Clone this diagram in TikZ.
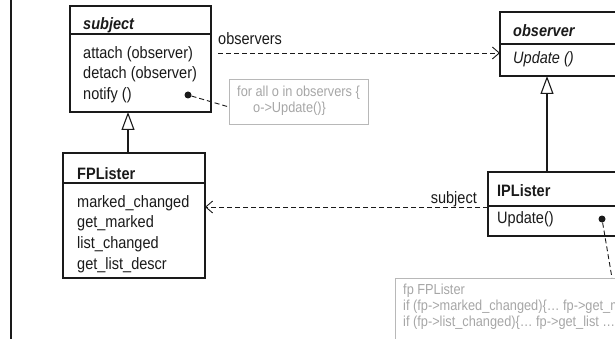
\documentclass[tikz,border=0pt]{standalone}
\usepackage{fontspec}
\setmainfont{Liberation Sans}[FakeStretch=0.88]
\usetikzlibrary{arrows.meta,calc}
\definecolor{ink}{HTML}{1A1A1A}
\definecolor{notegray}{HTML}{A6A6A6}
\definecolor{noteframe}{HTML}{B8B8B8}

\begin{document}
\begin{tikzpicture}[x=1pt,y=-1pt,
  classbox/.style={draw=ink, line width=1.1pt, inner sep=0pt, outer sep=0pt, anchor=north west},
  divider/.style={draw=ink, line width=1.1pt},
  txt/.style={inner sep=0pt, anchor=base west, font=\fontsize{16.5}{19}\selectfont, text=ink},
  notetxt/.style={inner sep=0pt, anchor=base west, font=\fontsize{14.5}{16}\selectfont, text=notegray},
  notebox/.style={draw=noteframe, line width=0.9pt, inner sep=0pt, outer sep=0pt, anchor=north west},
  assoc/.style={draw=ink, line width=0.9pt, dash pattern=on 5pt off 3pt,
    -{Straight Barb[length=7pt,width=12pt,line width=0.9pt]}},
  inherit/.style={draw=ink, line width=1.1pt,
    -{Triangle[open,length=18pt,width=13pt,line width=1.1pt]}},
  noteline/.style={draw=ink, line width=0.9pt, dash pattern=on 5pt off 3pt},
  hook/.style={circle, fill=ink, inner sep=0pt, minimum size=7pt},
]
\useasboundingbox (0,0) rectangle (615,339);
\clip (0,0) rectangle (615,339);

% frame line on the left
\draw[line width=1.4pt, draw=ink] (11,-2) -- (11,341);

% class: subject
\node[classbox, minimum width=141pt, minimum height=106pt] (subject) at (70,6) {};
\draw[divider] ($(subject.north west)+(0,28)$) -- ($(subject.north east)+(0,28)$);
\node[txt] (subjName) at (83,30) {\textbf{\textit{subject}}};
\node[txt] (subjAttach) at (83,59) {attach (observer)};
\node[txt] (subjDetach) at (83,79) {detach (observer)};
\node[txt] (subjNotify) at (83,100) {notify ()};
\node[hook] (dot1) at (188,95) {};

% class: observer
\node[classbox, minimum width=200pt, minimum height=64pt] (observer) at (500,12) {};
\draw[divider] ($(observer.north west)+(0,32)$) -- ($(observer.north east)+(0,32)$);
\node[txt] (obsName) at (513,37) {\textbf{\textit{observer}}};
\node[txt] (obsUpdate) at (513,64) {\textit{Update ()}};

% class: FPLister
\node[classbox, minimum width=142pt, minimum height=125pt] (fplister) at (63,153) {};
\draw[divider] ($(fplister.north west)+(0,30)$) -- ($(fplister.north east)+(0,30)$);
\node[txt] (fpName) at (77,179) {\textbf{FPLister}};
\node[txt] (fpA) at (77,207) {marked\_changed};
\node[txt] (fpB) at (77,227) {get\_marked};
\node[txt] (fpC) at (77,248) {list\_changed};
\node[txt] (fpD) at (77,269) {get\_list\_descr};

% class: IPLister
\node[classbox, minimum width=220pt, minimum height=64pt] (iplister) at (488,172) {};
\draw[divider] ($(iplister.north west)+(0,34)$) -- ($(iplister.north east)+(0,34)$);
\node[txt] (ipName) at (497,196) {\textbf{IPLister}};
\node[txt] (ipUpdate) at (497,223) {Update()};
\node[hook] (dot2) at (602,219) {};

% notes
\node[notebox, minimum width=139pt, minimum height=45pt] (note1) at (229,79) {};
\node[notetxt] (note1a) at (237,97) {for all o in observers \{};
\node[notetxt] (note1b) at (253,113) {o->Update()\}};

\node[notebox, minimum width=400pt, minimum height=100pt] (note2) at (395,278) {};
\node[notetxt] (note2a) at (403,294) {fp FPLister};
\node[notetxt] (note2b) at (403,310) {if (fp->marked\_changed)\{… fp->get\_marked …\}};
\node[notetxt] (note2c) at (403,326) {if (fp->list\_changed)\{… fp->get\_list …\}};

% associations
\coordinate (obsLinkA) at ($(subject.north east)+(7,47)$);
\coordinate (obsLinkB) at ($(observer.north west)+(0,41)$);
\draw[assoc] (obsLinkA) -- (obsLinkB);
\node[txt] (obsRole) at (218,45) {observers};

\coordinate (subjLink) at ($(iplister.north west)+(0,35)$);
\draw[assoc] (subjLink) -- (subjLink -| fplister.east);
\node[txt, anchor=base east] (subjRole) at (477,203) {subject};

% generalisations
\draw[inherit] (fplister.north -| 128,0) -- (subject.south -| 128,0);
\draw[inherit] (iplister.north -| 547,0) -- (observer.south -| 547,0);

% note anchors
\draw[noteline] (dot1) -- ($(note1.west)+(0,5.5)$);
\coordinate (note2hook) at ($(note2.north west)+(217,0)$);
\draw[noteline] (dot2) -- (note2hook);
\end{tikzpicture}
\end{document}
